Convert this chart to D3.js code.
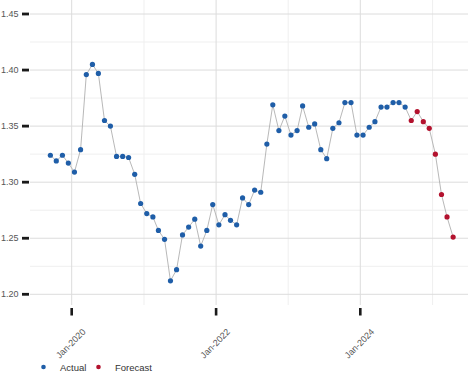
<!DOCTYPE html>
<html>
<head>
<meta charset="utf-8">
<script src="https://cdn.jsdelivr.net/npm/d3@7"></script>
<style>
  html, body { margin: 0; padding: 0; background: #ffffff; }
  svg { display: block; font-family: "Liberation Sans", Arial, sans-serif; }
</style>
</head>
<body>
<div id="chart"></div>
<script>
// ---- Data ----
const actualStart = "2019-09";   // first actual month
const actualValues = [
  1.324, 1.319, 1.324, 1.317, 1.309, 1.329, 1.396, 1.405, 1.397, 1.355, 1.350, 1.323,
  1.323, 1.322, 1.307, 1.281, 1.272, 1.269, 1.257, 1.249, 1.212, 1.222, 1.253, 1.260,
  1.267, 1.243, 1.257, 1.280, 1.262, 1.271, 1.266, 1.262, 1.286, 1.280, 1.293, 1.291,
  1.334, 1.369, 1.346, 1.359, 1.342, 1.346, 1.368, 1.349, 1.352, 1.329, 1.321, 1.348,
  1.353, 1.371, 1.371, 1.342, 1.342, 1.349, 1.354, 1.367, 1.367, 1.371, 1.371, 1.367
];
const forecastStart = "2024-09"; // first forecast month
const forecastValues = [1.355, 1.363, 1.354, 1.348, 1.325, 1.289, 1.269, 1.251];
const yTickValues = [1.20, 1.25, 1.30, 1.35, 1.40, 1.45];
const yMinorValues = [1.225, 1.275, 1.325, 1.375, 1.425];
const xTickYears = [2020, 2022, 2024];
const xMinorYears = [2021, 2023, 2025];
const seriesNames = ["Actual", "Forecast"];
const seriesColors = ["#1f5ea8", "#b3122e"];

// ---- Build dated records ----
const parseMonth = d3.timeParse("%Y-%m");
function monthDates(start, n) {
  const s = parseMonth(start);
  return d3.range(n).map(i => new Date(s.getFullYear(), s.getMonth() + i, 15));
}
const actual = monthDates(actualStart, actualValues.length).map((d, i) => ({date: d, value: actualValues[i], s: 0}));
const forecast = monthDates(forecastStart, forecastValues.length).map((d, i) => ({date: d, value: forecastValues[i], s: 1}));
const all = actual.concat(forecast);

// ---- Layout ----
const W = 474, H = 390;
const plot = {left: 30, right: 468, top: 0, bottom: 305};

const svg = d3.select("#chart").append("svg").attr("width", W).attr("height", H);

const x = d3.scaleTime()
  .domain([new Date(2020, 0, 1), new Date(2024, 0, 1)])
  .range([71.7, 360.3]);
const y = d3.scaleLinear()
  .domain([1.20, 1.45])
  .range([294.3, 14]);

// ---- Grid ----
const grid = svg.append("g");
grid.selectAll("line.hmin").data(yMinorValues).join("line")
  .attr("x1", plot.left).attr("x2", plot.right)
  .attr("y1", d => y(d)).attr("y2", d => y(d))
  .attr("stroke", "#efefef").attr("stroke-width", 1);
grid.selectAll("line.vmin").data(xMinorYears).join("line")
  .attr("x1", d => x(new Date(d, 0, 1))).attr("x2", d => x(new Date(d, 0, 1)))
  .attr("y1", plot.top).attr("y2", plot.bottom)
  .attr("stroke", "#efefef").attr("stroke-width", 1);
grid.selectAll("line.hmaj").data(yTickValues).join("line")
  .attr("x1", plot.left).attr("x2", plot.right)
  .attr("y1", d => y(d)).attr("y2", d => y(d))
  .attr("stroke", "#dcdcdc").attr("stroke-width", 1);
grid.selectAll("line.vmaj").data(xTickYears).join("line")
  .attr("x1", d => x(new Date(d, 0, 1))).attr("x2", d => x(new Date(d, 0, 1)))
  .attr("y1", plot.top).attr("y2", plot.bottom)
  .attr("stroke", "#dcdcdc").attr("stroke-width", 1);

// ---- Axes: ticks and labels ----
const yAx = svg.append("g");
yAx.selectAll("rect").data(yTickValues).join("rect")
  .attr("x", 22).attr("width", 7)
  .attr("y", d => y(d) - 1.4).attr("height", 2.8)
  .attr("fill", "#1a1a1a");
yAx.selectAll("text").data(yTickValues).join("text")
  .attr("x", 18.5).attr("y", d => y(d)).attr("dy", "0.35em")
  .attr("text-anchor", "end")
  .attr("font-size", "9px").attr("fill", "#555")
  .text(d => d3.format(".2f")(d));

const xAx = svg.append("g");
xAx.selectAll("rect").data(xTickYears).join("rect")
  .attr("x", d => x(new Date(d, 0, 1)) - 1.3).attr("width", 2.6)
  .attr("y", 308).attr("height", 7.5)
  .attr("fill", "#1a1a1a");
const fmt = d3.timeFormat("%b-%Y");
xAx.selectAll("text").data(xTickYears).join("text")
  .attr("transform", d => `translate(${x(new Date(d, 0, 1)) + 14.5},${332.5}) rotate(-45)`)
  .attr("text-anchor", "end")
  .attr("font-size", "9px").attr("fill", "#555")
  .text(d => fmt(new Date(d, 0, 1)));

// ---- Line ----
const line = d3.line().x(d => x(d.date)).y(d => y(d.value));
svg.append("path").datum(all)
  .attr("d", line)
  .attr("fill", "none")
  .attr("stroke", "#b0b0b0")
  .attr("stroke-width", 0.9);

// ---- Points ----
svg.append("g").selectAll("circle").data(all).join("circle")
  .attr("cx", d => x(d.date)).attr("cy", d => y(d.value))
  .attr("r", 2.6)
  .attr("fill", d => seriesColors[d.s]);

// ---- Legend ----
const legendX = [43.5, 98.5];
const leg = svg.append("g");
seriesNames.forEach((name, i) => {
  leg.append("circle").attr("cx", legendX[i]).attr("cy", 367).attr("r", 2.3).attr("fill", seriesColors[i]);
  leg.append("text").attr("x", legendX[i] + 16.5).attr("y", 370.5)
    .attr("font-size", "9.5px").attr("fill", "#333").text(name);
});
</script>
</body>
</html>
